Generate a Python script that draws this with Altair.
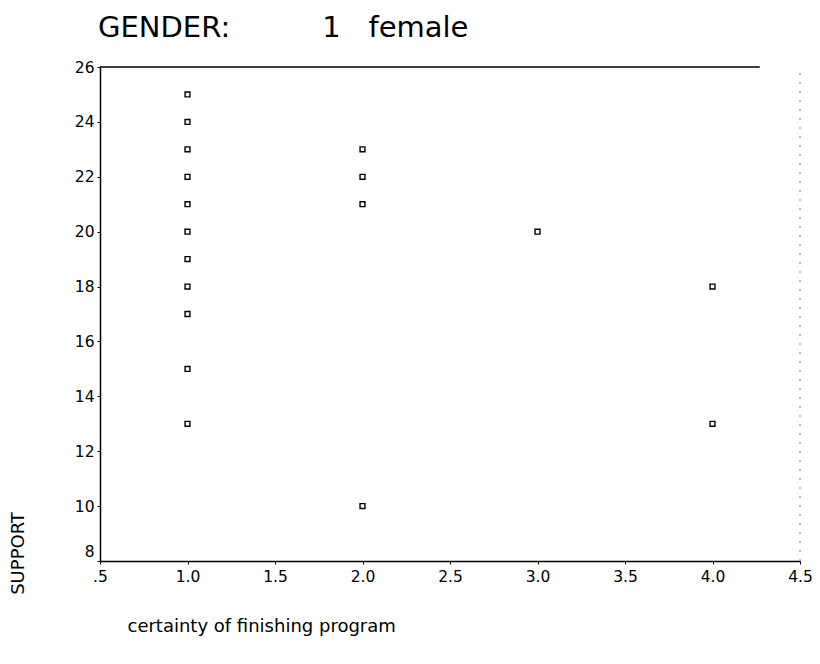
import altair as alt
import pandas as pd

# certainty of finishing program (x) vs SUPPORT (y), GENDER = 1 female
certainty = [1, 1, 1, 1, 1, 1, 1, 1, 1, 1, 1,
             2, 2, 2, 2,
             3,
             4, 4]
support = [25, 24, 23, 22, 21, 20, 19, 18, 17, 15, 13,
           23, 22, 21, 10,
           20,
           18, 13]
x_ticks = [0.5, 1.0, 1.5, 2.0, 2.5, 3.0, 3.5, 4.0, 4.5]
y_ticks = [8, 10, 12, 14, 16, 18, 20, 22, 24, 26]

df = pd.DataFrame({"certainty": certainty, "support": support})

FONT = "DejaVu Sans"
NB = "\u00a0"

xscale = alt.Scale(domain=[0.5, 4.5], nice=False, zero=False)
yscale = alt.Scale(domain=[8, 26], nice=False, zero=False)

points = alt.Chart(df).mark_point(
    shape="square", filled=False, color="black", size=24, strokeWidth=1.4, opacity=1
).encode(
    x=alt.X("certainty:Q", scale=xscale,
            axis=alt.Axis(values=x_ticks, title="certainty of finishing program",
                          labelExpr="datum.value == 0.5 ? '.5' : format(datum.value, '.1f')",
                          grid=False, domainColor="black", domainWidth=1.5,
                          tickColor="black", tickSize=3, labelPadding=5,
                          labelFont=FONT, labelFontSize=15.5, labelColor="black",
                          titleFont=FONT, titleFontSize=18, titleFontWeight="normal",
                          titleColor="black", titleX=27, titleY=70, titleAlign="left",
                          titleBaseline="alphabetic", labelFlush=False)),
    y=alt.Y("support:Q", scale=yscale,
            axis=alt.Axis(values=y_ticks, title="SUPPORT", format="d",
                          grid=False, domainColor="black", domainWidth=1.5,
                          tickColor="black", tickSize=3, labelPadding=3,
                          labelFont=FONT, labelFontSize=15.5, labelColor="black",
                          labelOffset={"condition": {"test": "datum.value == 8", "value": -10}, "value": 0},
                          titleFont=FONT, titleFontSize=18, titleFontWeight="normal",
                          titleColor="black", titleAngle=270, titleX=-82, titleY=486,
                          titleAlign="center", titleBaseline="middle", labelFlush=False)),
)

top_rule = alt.Chart().mark_rule(color="black", strokeWidth=1.5).encode(
    x=alt.datum(0.5, scale=xscale), x2=alt.datum(4.27), y=alt.datum(26, scale=yscale)
)
right_rule = alt.Chart().mark_rule(color="#777777", strokeWidth=1, strokeDash=[2, 7]).encode(
    x=alt.datum(4.5, scale=xscale), y=alt.datum(8, scale=yscale), y2=alt.datum(26)
)

chart = alt.layer(top_rule, right_rule, points).properties(
    width=700,
    height=494,
    title=alt.TitleParams(
        "GENDER:" + NB * 10 + "1" + NB * 3 + "female",
        anchor="start", frame="group", font=FONT, fontSize=29, fontWeight="normal",
        color="black", baseline="alphabetic", offset=-6, dx=-2,
    ),
    autosize=alt.AutoSizeParams(type="none"),
    padding={"left": 100, "top": 67, "right": 20, "bottom": 103},
    background="white",
).configure_view(stroke=None)

chart.save("out.html", embed_options={"renderer": "svg", "actions": False})
